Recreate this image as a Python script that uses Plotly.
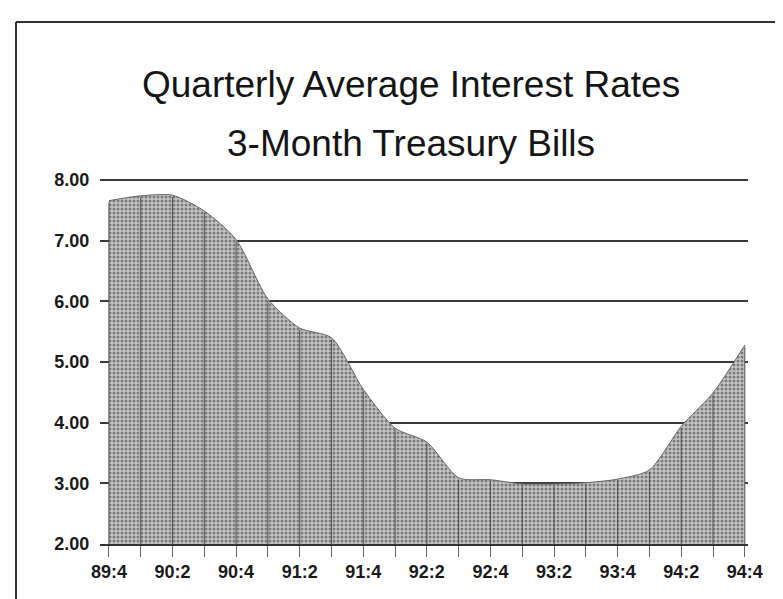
import plotly.graph_objects as go

quarters = ["89:4", "90:1", "90:2", "90:3", "90:4", "91:1", "91:2", "91:3", "91:4",
            "92:1", "92:2", "92:3", "92:4", "93:1", "93:2", "93:3", "93:4",
            "94:1", "94:2", "94:3", "94:4"]
rates = [7.66, 7.74, 7.75, 7.49, 7.02, 6.04, 5.56, 5.40, 4.55, 3.91, 3.68, 3.09,
         3.06, 2.99, 2.99, 3.01, 3.07, 3.22, 3.94, 4.49, 5.28]
y_ticks = [2, 3, 4, 5, 6, 7, 8]
title_lines = ["Quarterly Average Interest Rates", "3-Month Treasury Bills"]

W, H = 783, 599
ML, MR, MT, MB = 92, 43, 171, 63
PW, PH = W - ML - MR, H - MT - MB

def px_x(p):
    return (p - ML) / PW

def px_y(p):
    return (H - MB - p) / PH

fig = go.Figure()

fig.add_trace(go.Scatter(
    x=quarters, y=rates, mode="lines",
    line=dict(color="#666666", width=1, shape="spline", smoothing=0.7),
    fill="tozeroy", fillcolor="#b4b4b4",
    fillpattern=dict(shape=".", size=4, solidity=0.45,
                     fgcolor="#7a7a7a", bgcolor="#c6c6c6", fillmode="replace"),
    hoverinfo="skip", showlegend=False,
))

vx, vy = [], []
for q, r in zip(quarters, rates):
    vx += [q, q, None]
    vy += [2, r - 0.03, None]
fig.add_trace(go.Scatter(
    x=vx, y=vy, mode="lines",
    line=dict(color="#505050", width=1),
    hoverinfo="skip", showlegend=False,
))

fig.update_layout(
    width=W, height=H,
    margin=dict(l=ML, r=MR, t=MT, b=MB),
    paper_bgcolor="white", plot_bgcolor="white",
    font=dict(family="Liberation Sans, Arial, sans-serif", color="#222222"),
    xaxis=dict(
        type="category", categoryorder="array", categoryarray=quarters,
        range=[-0.28, 20.1],
        tickvals=quarters,
        ticktext=[q if i % 2 == 0 else "" for i, q in enumerate(quarters)],
        ticks="outside", ticklen=11, tickcolor="#666666", tickwidth=1,
        tickfont=dict(size=18, family="Liberation Sans, Arial, sans-serif", color="#1a1a1a", weight="bold"),
        showgrid=False, showline=True, linecolor="#333333", linewidth=1.5,
        zeroline=False,
    ),
    yaxis=dict(
        range=[2, 8.017], tickvals=y_ticks, tickformat=".2f",
        ticks="outside", ticklen=6, tickcolor="rgba(0,0,0,0)",
        tickfont=dict(size=18, family="Liberation Sans, Arial, sans-serif", color="#1a1a1a", weight="bold"),
        showgrid=True, gridcolor="#3a3a3a", gridwidth=1.5,
        zeroline=False, showline=False,
    ),
    annotations=[
        dict(text=title_lines[0], xref="paper", yref="paper",
             x=px_x(403), y=px_y(77), xanchor="center", yanchor="middle",
             showarrow=False, font=dict(size=37, color="#151515")),
        dict(text=title_lines[1], xref="paper", yref="paper",
             x=px_x(403), y=px_y(135), xanchor="center", yanchor="middle",
             showarrow=False, font=dict(size=37, color="#151515")),
    ],
    shapes=[
        dict(type="line", xref="paper", yref="paper",
             x0=px_x(8), x1=px_x(783), y0=px_y(14), y1=px_y(14),
             line=dict(color="#333333", width=2)),
        dict(type="line", xref="paper", yref="paper",
             x0=px_x(8), x1=px_x(8), y0=px_y(14), y1=px_y(599),
             line=dict(color="#333333", width=2)),
    ],
)

fig.write_html("out.html")
